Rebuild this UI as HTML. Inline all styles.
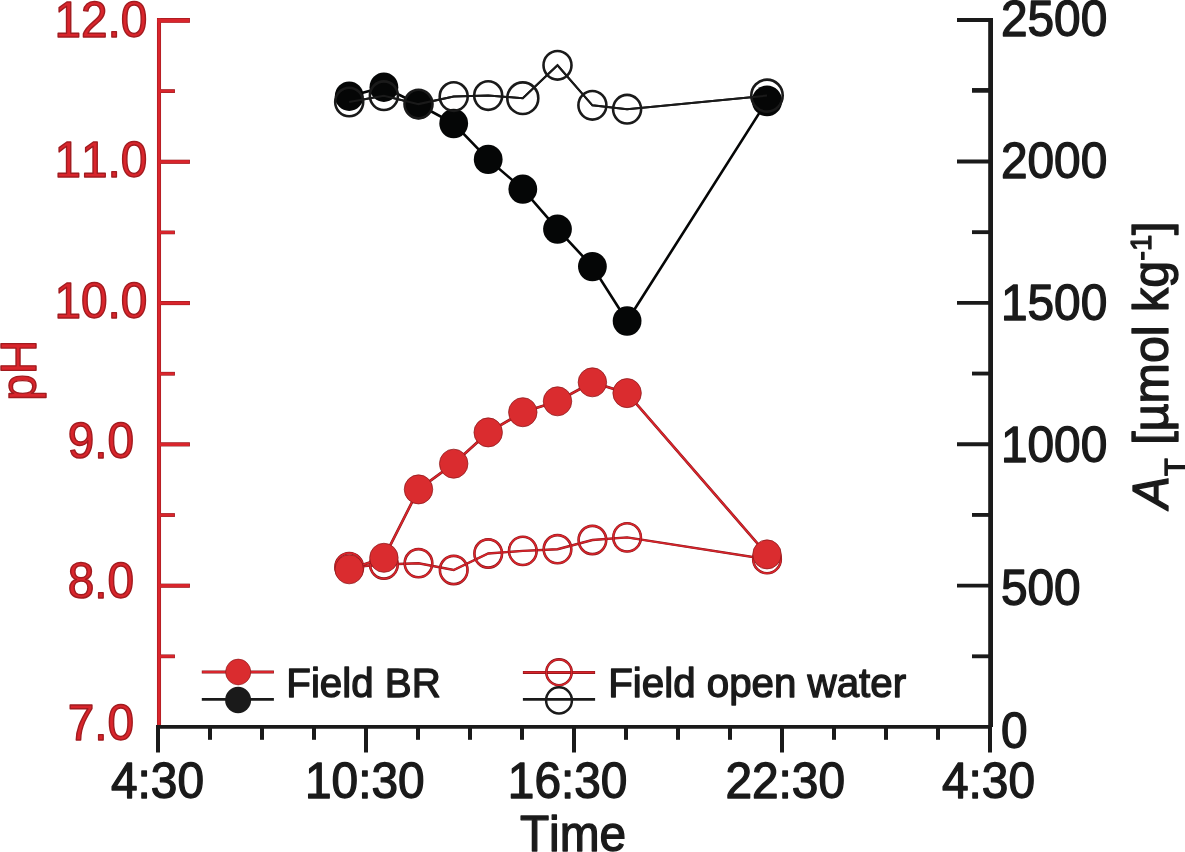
<!DOCTYPE html>
<html lang="en"><head><meta charset="utf-8"><title>pH and total alkalinity over time</title>
<style>
html,body{margin:0;padding:0;background:#fff;}
body{width:1185px;height:852px;overflow:hidden;}
svg{display:block;}
text{font-family:"Liberation Sans",Arial,Helvetica,sans-serif;font-kerning:none;font-variant-ligatures:none;}
</style></head><body>
<svg width="1185" height="852" viewBox="0 0 1185 852">
<rect x="0" y="0" width="1185" height="852" fill="#fff"/>
<g id="left-axis">
<line x1="157.00" y1="20.45" x2="189.90" y2="20.45" stroke="#861518" stroke-width="4.70"/>
<line x1="159.00" y1="91.11" x2="174.90" y2="91.11" stroke="#861518" stroke-width="3.70"/>
<line x1="159.00" y1="161.76" x2="189.90" y2="161.76" stroke="#861518" stroke-width="4.10"/>
<line x1="159.00" y1="232.41" x2="174.90" y2="232.41" stroke="#861518" stroke-width="3.70"/>
<line x1="159.00" y1="303.07" x2="189.90" y2="303.07" stroke="#861518" stroke-width="4.10"/>
<line x1="159.00" y1="373.72" x2="174.90" y2="373.72" stroke="#861518" stroke-width="3.70"/>
<line x1="159.00" y1="444.38" x2="189.90" y2="444.38" stroke="#861518" stroke-width="4.10"/>
<line x1="159.00" y1="515.04" x2="174.90" y2="515.04" stroke="#861518" stroke-width="3.70"/>
<line x1="159.00" y1="585.69" x2="189.90" y2="585.69" stroke="#861518" stroke-width="4.10"/>
<line x1="159.00" y1="656.35" x2="174.90" y2="656.35" stroke="#861518" stroke-width="3.70"/>
<line x1="159.00" y1="18.10" x2="159.00" y2="726.00" stroke="#861518" stroke-width="4.05"/>
<line x1="157.40" y1="20.45" x2="189.50" y2="20.45" stroke="#d9252c" stroke-width="3.90"/>
<line x1="159.40" y1="91.11" x2="174.50" y2="91.11" stroke="#d9252c" stroke-width="2.90"/>
<line x1="159.40" y1="161.76" x2="189.50" y2="161.76" stroke="#d9252c" stroke-width="3.30"/>
<line x1="159.40" y1="232.41" x2="174.50" y2="232.41" stroke="#d9252c" stroke-width="2.90"/>
<line x1="159.40" y1="303.07" x2="189.50" y2="303.07" stroke="#d9252c" stroke-width="3.30"/>
<line x1="159.40" y1="373.72" x2="174.50" y2="373.72" stroke="#d9252c" stroke-width="2.90"/>
<line x1="159.40" y1="444.38" x2="189.50" y2="444.38" stroke="#d9252c" stroke-width="3.30"/>
<line x1="159.40" y1="515.04" x2="174.50" y2="515.04" stroke="#d9252c" stroke-width="2.90"/>
<line x1="159.40" y1="585.69" x2="189.50" y2="585.69" stroke="#d9252c" stroke-width="3.30"/>
<line x1="159.40" y1="656.35" x2="174.50" y2="656.35" stroke="#d9252c" stroke-width="2.90"/>
<line x1="159.00" y1="18.50" x2="159.00" y2="726.00" stroke="#d9252c" stroke-width="3.25"/>
<text transform="translate(100.90 37.10) scale(1 1.040)" font-size="47.80" fill="#d9252c" text-anchor="middle" stroke="#a11b1f" stroke-width="1.4" stroke-linejoin="round">12.0</text>
<text transform="translate(100.90 177.40) scale(1 1.040)" font-size="47.80" fill="#d9252c" text-anchor="middle" stroke="#a11b1f" stroke-width="1.4" stroke-linejoin="round">11.0</text>
<text transform="translate(100.90 318.40) scale(1 1.040)" font-size="47.80" fill="#d9252c" text-anchor="middle" stroke="#a11b1f" stroke-width="1.4" stroke-linejoin="round">10.0</text>
<text transform="translate(100.90 458.30) scale(1 1.040)" font-size="47.80" fill="#d9252c" text-anchor="middle" stroke="#a11b1f" stroke-width="1.4" stroke-linejoin="round">9.0</text>
<text transform="translate(100.90 598.30) scale(1 1.040)" font-size="47.80" fill="#d9252c" text-anchor="middle" stroke="#a11b1f" stroke-width="1.4" stroke-linejoin="round">8.0</text>
<text transform="translate(100.90 740.20) scale(1 1.040)" font-size="47.80" fill="#d9252c" text-anchor="middle" stroke="#a11b1f" stroke-width="1.4" stroke-linejoin="round">7.0</text>
<text transform="translate(36.4 400.8) rotate(-90) scale(1 1.040)" font-size="47.80" fill="#d9252c" stroke="#a11b1f" stroke-width="1.4" stroke-linejoin="round">pH</text>
</g>
<g id="right-axis">
<line x1="957.00" y1="20.10" x2="993.00" y2="20.10" stroke="#1a1a1a" stroke-width="4.00"/>
<line x1="972.00" y1="90.39" x2="990.60" y2="90.39" stroke="#1a1a1a" stroke-width="4.70"/>
<line x1="957.00" y1="161.48" x2="990.60" y2="161.48" stroke="#1a1a1a" stroke-width="3.85"/>
<line x1="972.00" y1="232.17" x2="990.60" y2="232.17" stroke="#1a1a1a" stroke-width="3.85"/>
<line x1="957.00" y1="302.86" x2="990.60" y2="302.86" stroke="#1a1a1a" stroke-width="3.85"/>
<line x1="972.00" y1="373.55" x2="990.60" y2="373.55" stroke="#1a1a1a" stroke-width="3.85"/>
<line x1="957.00" y1="444.24" x2="990.60" y2="444.24" stroke="#1a1a1a" stroke-width="3.85"/>
<line x1="972.00" y1="514.93" x2="990.60" y2="514.93" stroke="#1a1a1a" stroke-width="3.85"/>
<line x1="957.00" y1="585.62" x2="990.60" y2="585.62" stroke="#1a1a1a" stroke-width="3.85"/>
<line x1="972.00" y1="656.31" x2="990.60" y2="656.31" stroke="#1a1a1a" stroke-width="3.85"/>
<line x1="990.60" y1="18.10" x2="990.60" y2="727.00" stroke="#1a1a1a" stroke-width="4.80"/>
<text transform="translate(1000.90 36.00) scale(1 1.040)" font-size="47.80" fill="#1a1a1a" text-anchor="start" stroke="#1a1a1a" stroke-width="1.3" stroke-linejoin="round">2500</text>
<text transform="translate(1000.90 177.90) scale(1 1.040)" font-size="47.80" fill="#1a1a1a" text-anchor="start" stroke="#1a1a1a" stroke-width="1.3" stroke-linejoin="round">2000</text>
<text transform="translate(1000.90 320.20) scale(1 1.040)" font-size="47.80" fill="#1a1a1a" text-anchor="start" stroke="#1a1a1a" stroke-width="1.3" stroke-linejoin="round">1500</text>
<text transform="translate(1000.90 462.40) scale(1 1.040)" font-size="47.80" fill="#1a1a1a" text-anchor="start" stroke="#1a1a1a" stroke-width="1.3" stroke-linejoin="round">1000</text>
<text transform="translate(1000.90 605.20) scale(1 1.040)" font-size="47.80" fill="#1a1a1a" text-anchor="start" stroke="#1a1a1a" stroke-width="1.3" stroke-linejoin="round">500</text>
<text transform="translate(1000.90 747.90) scale(1 1.040)" font-size="47.80" fill="#1a1a1a" text-anchor="start" stroke="#1a1a1a" stroke-width="1.3" stroke-linejoin="round">0</text>
<text transform="translate(1167.6 508.4) rotate(-90) scale(1.014 1.040)" font-size="47.80" fill="#1a1a1a" stroke="#1a1a1a" stroke-width="1.3" stroke-linejoin="round"><tspan font-style="italic">A</tspan><tspan font-size="28.68" dy="16.5">T</tspan><tspan dy="-16.5"> [µmol kg</tspan><tspan font-size="28.68" dy="-16">-1</tspan><tspan dy="16">]</tspan></text>
</g>
<g id="bottom-axis">
<line x1="156.00" y1="726.90" x2="991.60" y2="726.90" stroke="#1a1a1a" stroke-width="3.85"/>
<line x1="158.00" y1="727.00" x2="158.00" y2="752.50" stroke="#1a1a1a" stroke-width="4.00"/>
<line x1="210.00" y1="727.00" x2="210.00" y2="739.80" stroke="#1a1a1a" stroke-width="4.00"/>
<line x1="262.00" y1="727.00" x2="262.00" y2="739.80" stroke="#1a1a1a" stroke-width="4.00"/>
<line x1="314.00" y1="727.00" x2="314.00" y2="739.80" stroke="#1a1a1a" stroke-width="4.00"/>
<line x1="366.00" y1="727.00" x2="366.00" y2="752.50" stroke="#1a1a1a" stroke-width="4.00"/>
<line x1="418.00" y1="727.00" x2="418.00" y2="739.80" stroke="#1a1a1a" stroke-width="4.00"/>
<line x1="470.00" y1="727.00" x2="470.00" y2="739.80" stroke="#1a1a1a" stroke-width="4.00"/>
<line x1="522.00" y1="727.00" x2="522.00" y2="739.80" stroke="#1a1a1a" stroke-width="4.00"/>
<line x1="574.00" y1="727.00" x2="574.00" y2="752.50" stroke="#1a1a1a" stroke-width="4.00"/>
<line x1="626.00" y1="727.00" x2="626.00" y2="739.80" stroke="#1a1a1a" stroke-width="4.00"/>
<line x1="678.00" y1="727.00" x2="678.00" y2="739.80" stroke="#1a1a1a" stroke-width="4.00"/>
<line x1="730.00" y1="727.00" x2="730.00" y2="739.80" stroke="#1a1a1a" stroke-width="4.00"/>
<line x1="782.00" y1="727.00" x2="782.00" y2="752.50" stroke="#1a1a1a" stroke-width="4.00"/>
<line x1="834.00" y1="727.00" x2="834.00" y2="739.80" stroke="#1a1a1a" stroke-width="4.00"/>
<line x1="886.00" y1="727.00" x2="886.00" y2="739.80" stroke="#1a1a1a" stroke-width="4.00"/>
<line x1="938.00" y1="727.00" x2="938.00" y2="739.80" stroke="#1a1a1a" stroke-width="4.00"/>
<line x1="990.00" y1="727.00" x2="990.00" y2="752.50" stroke="#1a1a1a" stroke-width="4.00"/>
<text transform="translate(204.00 797.50) scale(1 1.040)" font-size="47.80" fill="#1a1a1a" text-anchor="end" stroke="#1a1a1a" stroke-width="1.3" stroke-linejoin="round">4:30</text>
<text transform="translate(424.60 797.50) scale(1 1.040)" font-size="47.80" fill="#1a1a1a" text-anchor="end" stroke="#1a1a1a" stroke-width="1.3" stroke-linejoin="round">10:30</text>
<text transform="translate(627.40 797.50) scale(1 1.040)" font-size="47.80" fill="#1a1a1a" text-anchor="end" stroke="#1a1a1a" stroke-width="1.3" stroke-linejoin="round">16:30</text>
<text transform="translate(845.00 797.50) scale(1 1.040)" font-size="47.80" fill="#1a1a1a" text-anchor="end" stroke="#1a1a1a" stroke-width="1.3" stroke-linejoin="round">22:30</text>
<text transform="translate(1035.00 797.50) scale(1 1.040)" font-size="47.80" fill="#1a1a1a" text-anchor="end" stroke="#1a1a1a" stroke-width="1.3" stroke-linejoin="round">4:30</text>
<text transform="translate(573.00 851.00) scale(1 1.040)" font-size="47.80" fill="#1a1a1a" text-anchor="middle" stroke="#1a1a1a" stroke-width="1.3" stroke-linejoin="round">Time</text>
</g>
<g id="series-at-open">
<polyline points="349.2,102.0 383.9,95.7 418.5,104.1 453.7,96.6 488.2,95.6 522.8,98.2 557.5,65.3 592.4,105.3 627.1,109.2 767.0,95.6" fill="none" stroke="#1a1a1a" stroke-width="2.00" stroke-linejoin="miter"/>
</g>
<g id="series-at-br">
<polyline points="349.2,96.2 383.9,87.2 418.5,104.5 453.7,123.5 488.2,159.4 522.8,189.1 557.5,229.1 592.4,266.6 627.1,321.0 767.0,100.9" fill="none" stroke="#050606" stroke-width="2.60" stroke-linejoin="miter"/>
<ellipse cx="349.2" cy="96.2" rx="14.40" ry="14.69" fill="#050606"/>
<ellipse cx="383.9" cy="87.2" rx="14.40" ry="14.69" fill="#050606"/>
<ellipse cx="418.5" cy="104.5" rx="14.40" ry="14.69" fill="#050606"/>
<ellipse cx="453.7" cy="123.5" rx="14.40" ry="14.69" fill="#050606"/>
<ellipse cx="488.2" cy="159.4" rx="14.40" ry="14.69" fill="#050606"/>
<ellipse cx="522.8" cy="189.1" rx="14.40" ry="14.69" fill="#050606"/>
<ellipse cx="557.5" cy="229.1" rx="14.40" ry="14.69" fill="#050606"/>
<ellipse cx="592.4" cy="266.6" rx="14.40" ry="14.69" fill="#050606"/>
<ellipse cx="627.1" cy="321.0" rx="14.40" ry="14.69" fill="#050606"/>
<ellipse cx="767.0" cy="100.9" rx="15.10" ry="15.40" fill="#050606"/>
</g>
<g id="series-at-open-markers">
<polyline points="349.2,102.0 383.9,95.7 418.5,104.1 453.7,96.6 488.2,95.6 522.8,98.2 557.5,65.3 592.4,105.3 627.1,109.2 767.0,95.6" fill="none" stroke="#1a1a1a" stroke-width="2.00" stroke-linejoin="miter"/>
<ellipse cx="349.2" cy="102.0" rx="14.00" ry="14.28" fill="none" stroke="#1a1a1a" stroke-width="2.60"/>
<ellipse cx="383.9" cy="95.7" rx="14.00" ry="14.28" fill="none" stroke="#1a1a1a" stroke-width="2.60"/>
<ellipse cx="418.5" cy="104.1" rx="14.00" ry="14.28" fill="none" stroke="#1a1a1a" stroke-width="2.60"/>
<ellipse cx="453.7" cy="96.6" rx="14.00" ry="14.28" fill="none" stroke="#1a1a1a" stroke-width="2.60"/>
<ellipse cx="488.2" cy="95.6" rx="14.00" ry="14.28" fill="none" stroke="#1a1a1a" stroke-width="2.60"/>
<ellipse cx="522.8" cy="98.2" rx="15.50" ry="15.81" fill="none" stroke="#1a1a1a" stroke-width="2.60"/>
<ellipse cx="557.5" cy="65.3" rx="14.00" ry="14.28" fill="none" stroke="#1a1a1a" stroke-width="2.60"/>
<ellipse cx="592.4" cy="105.3" rx="14.00" ry="14.28" fill="none" stroke="#1a1a1a" stroke-width="2.60"/>
<ellipse cx="627.1" cy="109.2" rx="14.00" ry="14.28" fill="none" stroke="#1a1a1a" stroke-width="2.60"/>
<ellipse cx="767.0" cy="95.6" rx="15.70" ry="16.01" fill="none" stroke="#1a1a1a" stroke-width="2.60"/>
</g>
<g id="series-ph-open">
<polyline points="349.2,567.2 383.9,564.5 418.5,563.2 453.7,570.0 488.2,553.5 522.8,550.9 557.5,549.2 592.4,540.0 627.1,537.4 767.0,559.2" fill="none" stroke="#861518" stroke-width="2.40" stroke-linejoin="miter"/>
<polyline points="349.2,567.2 383.9,564.5 418.5,563.2 453.7,570.0 488.2,553.5 522.8,550.9 557.5,549.2 592.4,540.0 627.1,537.4 767.0,559.2" fill="none" stroke="#d9252c" stroke-width="1.50" stroke-linejoin="miter"/>
<ellipse cx="349.2" cy="567.2" rx="13.80" ry="14.10" fill="none" stroke="#861518" stroke-width="2.60"/>
<ellipse cx="349.2" cy="567.2" rx="13.80" ry="14.10" fill="none" stroke="#d9252c" stroke-width="1.60"/>
<ellipse cx="383.9" cy="564.5" rx="13.80" ry="14.10" fill="none" stroke="#861518" stroke-width="2.60"/>
<ellipse cx="383.9" cy="564.5" rx="13.80" ry="14.10" fill="none" stroke="#d9252c" stroke-width="1.60"/>
<ellipse cx="418.5" cy="563.2" rx="13.80" ry="14.10" fill="none" stroke="#861518" stroke-width="2.60"/>
<ellipse cx="418.5" cy="563.2" rx="13.80" ry="14.10" fill="none" stroke="#d9252c" stroke-width="1.60"/>
<ellipse cx="453.7" cy="570.0" rx="13.80" ry="14.10" fill="none" stroke="#861518" stroke-width="2.60"/>
<ellipse cx="453.7" cy="570.0" rx="13.80" ry="14.10" fill="none" stroke="#d9252c" stroke-width="1.60"/>
<ellipse cx="488.2" cy="553.5" rx="13.80" ry="14.10" fill="none" stroke="#861518" stroke-width="2.60"/>
<ellipse cx="488.2" cy="553.5" rx="13.80" ry="14.10" fill="none" stroke="#d9252c" stroke-width="1.60"/>
<ellipse cx="522.8" cy="550.9" rx="13.80" ry="14.10" fill="none" stroke="#861518" stroke-width="2.60"/>
<ellipse cx="522.8" cy="550.9" rx="13.80" ry="14.10" fill="none" stroke="#d9252c" stroke-width="1.60"/>
<ellipse cx="557.5" cy="549.2" rx="13.80" ry="14.10" fill="none" stroke="#861518" stroke-width="2.60"/>
<ellipse cx="557.5" cy="549.2" rx="13.80" ry="14.10" fill="none" stroke="#d9252c" stroke-width="1.60"/>
<ellipse cx="592.4" cy="540.0" rx="13.80" ry="14.10" fill="none" stroke="#861518" stroke-width="2.60"/>
<ellipse cx="592.4" cy="540.0" rx="13.80" ry="14.10" fill="none" stroke="#d9252c" stroke-width="1.60"/>
<ellipse cx="627.1" cy="537.4" rx="13.80" ry="14.10" fill="none" stroke="#861518" stroke-width="2.60"/>
<ellipse cx="627.1" cy="537.4" rx="13.80" ry="14.10" fill="none" stroke="#d9252c" stroke-width="1.60"/>
<ellipse cx="767.0" cy="559.2" rx="13.80" ry="14.10" fill="none" stroke="#861518" stroke-width="2.60"/>
<ellipse cx="767.0" cy="559.2" rx="13.80" ry="14.10" fill="none" stroke="#d9252c" stroke-width="1.60"/>
</g>
<g id="series-ph-br">
<polyline points="349.2,569.3 383.9,557.8 418.5,489.4 453.7,463.7 488.2,432.4 522.8,412.2 557.5,401.3 592.4,382.3 627.1,393.1 767.0,554.4" fill="none" stroke="#861518" stroke-width="2.70" stroke-linejoin="miter"/>
<polyline points="349.2,569.3 383.9,557.8 418.5,489.4 453.7,463.7 488.2,432.4 522.8,412.2 557.5,401.3 592.4,382.3 627.1,393.1 767.0,554.4" fill="none" stroke="#d9252c" stroke-width="1.70" stroke-linejoin="miter"/>
<ellipse cx="349.2" cy="569.3" rx="14.25" ry="14.55" fill="#da2c2f" stroke="#861518" stroke-width="0.70"/>
<ellipse cx="383.9" cy="557.8" rx="14.25" ry="14.55" fill="#da2c2f" stroke="#861518" stroke-width="0.70"/>
<ellipse cx="418.5" cy="489.4" rx="14.25" ry="14.55" fill="#da2c2f" stroke="#861518" stroke-width="0.70"/>
<ellipse cx="453.7" cy="463.7" rx="14.25" ry="14.55" fill="#da2c2f" stroke="#861518" stroke-width="0.70"/>
<ellipse cx="488.2" cy="432.4" rx="14.25" ry="14.55" fill="#da2c2f" stroke="#861518" stroke-width="0.70"/>
<ellipse cx="522.8" cy="412.2" rx="14.25" ry="14.55" fill="#da2c2f" stroke="#861518" stroke-width="0.70"/>
<ellipse cx="557.5" cy="401.3" rx="14.25" ry="14.55" fill="#da2c2f" stroke="#861518" stroke-width="0.70"/>
<ellipse cx="592.4" cy="382.3" rx="14.25" ry="14.55" fill="#da2c2f" stroke="#861518" stroke-width="0.70"/>
<ellipse cx="627.1" cy="393.1" rx="14.25" ry="14.55" fill="#da2c2f" stroke="#861518" stroke-width="0.70"/>
<ellipse cx="767.0" cy="554.4" rx="14.25" ry="14.55" fill="#da2c2f" stroke="#861518" stroke-width="0.70"/>
</g>
<g id="legend">
<line x1="201.80" y1="672.00" x2="273.90" y2="672.00" stroke="#861518" stroke-width="3.00"/>
<line x1="202.30" y1="672.00" x2="273.40" y2="672.00" stroke="#d9252c" stroke-width="1.80"/>
<ellipse cx="238.2" cy="672.0" rx="12.60" ry="12.90" fill="#da2c2f" stroke="#861518" stroke-width="0.60"/>
<line x1="201.80" y1="699.30" x2="273.90" y2="699.30" stroke="#1a1a1a" stroke-width="2.80"/>
<ellipse cx="238.1" cy="700.0" rx="13.00" ry="13.20" fill="#1a1a1a"/>
<text transform="translate(286.30 696.90) scale(1 1.010)" font-size="40.30" fill="#1a1a1a" text-anchor="start" stroke="#1a1a1a" stroke-width="1.3" stroke-linejoin="round">Field BR</text>
<line x1="522.90" y1="672.40" x2="595.10" y2="672.40" stroke="#861518" stroke-width="3.00"/>
<line x1="523.40" y1="672.40" x2="594.60" y2="672.40" stroke="#d9252c" stroke-width="1.80"/>
<ellipse cx="559.0" cy="672.3" rx="12.70" ry="12.90" fill="none" stroke="#861518" stroke-width="2.60"/>
<ellipse cx="559.0" cy="672.3" rx="12.70" ry="12.90" fill="none" stroke="#d9252c" stroke-width="1.50"/>
<line x1="522.90" y1="699.40" x2="595.10" y2="699.40" stroke="#1a1a1a" stroke-width="2.80"/>
<ellipse cx="559.0" cy="700.4" rx="12.90" ry="13.10" fill="none" stroke="#1a1a1a" stroke-width="2.50"/>
<text transform="translate(608.20 697.30) scale(1 1.010)" font-size="40.30" fill="#1a1a1a" text-anchor="start" stroke="#1a1a1a" stroke-width="1.3" stroke-linejoin="round">Field open water</text>
</g>
</svg></body></html>
